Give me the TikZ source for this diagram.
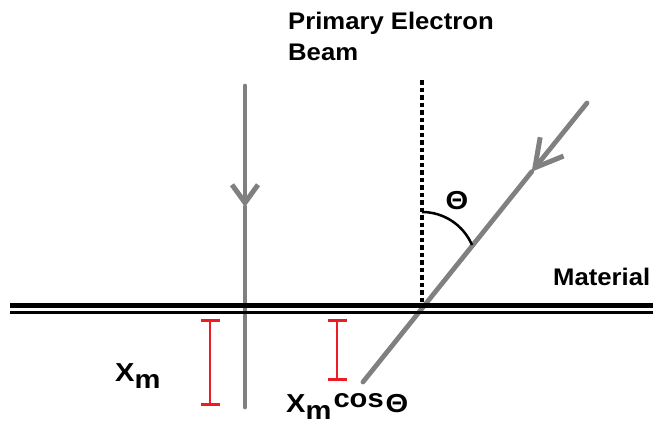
\documentclass[tikz,border=0pt]{standalone}
\usepackage{fontspec}
\setmainfont{Liberation Sans}
\newfontfamily\labfont[FakeStretch=1.07]{Liberation Sans}
\newfontfamily\symfont[FakeStretch=1.12]{Liberation Sans}
\usetikzlibrary{arrows.meta}
\definecolor{beamgray}{RGB}{128,128,128}
\definecolor{barred}{RGB}{237,28,36}
\tikzset{
  beam/.style={draw=beamgray, line width=4.8pt, line cap=round},
  lab/.style={inner sep=0pt, font=\labfont\fontsize{24}{31}\selectfont\bfseries, text=black},
  symlab/.style={inner sep=0pt, font=\symfont\fontsize{26}{31}\selectfont\bfseries, text=black},
  surface/.style={draw=black},
  redbar/.style={draw=barred, line width=2.5pt, {Bar[width=19pt,line width=3pt]}-{Bar[width=19pt,line width=3pt]}},
  normalline/.style={draw=black, line width=3.2pt, dash pattern=on 4.5pt off 3pt},
  anglearc/.style={draw=black, line width=2.5pt}
}
\begin{document}
\begin{tikzpicture}[x=1pt,y=-1pt]
\useasboundingbox (0,0) rectangle (653,426);
% beams
\coordinate (vtop) at (245,86);
\coordinate (vmid) at (245,207);
\coordinate (vbot) at (245,407);
\coordinate (dtop) at (587,103);
\coordinate (dmid) at (531.7,171.7);
\coordinate (dbot) at (363,382);
\draw[beam, -{Straight Barb[length=18pt,width=26pt,line width=5pt]}] (vtop) -- (vmid);
\draw[beam] (vmid) -- (vbot);
\draw[beam, -{Straight Barb[length=27pt,width=30pt,line width=5pt]}] (dtop) -- (dmid);
\draw[beam] (dmid) -- (dbot);
% normal (dotted)
\coordinate (ntop) at (422,80);
\coordinate (nbot) at (422,302);
\draw[normalline] (ntop) -- (nbot);
% angle arc
\coordinate (arcA) at (422,212);
\coordinate (arcB) at (472,245);
\draw[anglearc] (arcA) .. controls (443.8,212) and (463.4,225) .. (arcB);
% material surface
\coordinate (s1a) at (10,305.5);
\coordinate (s1b) at (653,305.5);
\coordinate (s2a) at (10,312.5);
\coordinate (s2b) at (653,312.5);
\draw[surface, line width=5.5pt] (s1a) -- (s1b);
\draw[surface, line width=3pt] (s2a) -- (s2b);
% red depth bars
\coordinate (r1a) at (210,319);
\coordinate (r1b) at (210,406);
\coordinate (r2a) at (337,319);
\coordinate (r2b) at (337,381);
\draw[redbar] (r1a) -- (r1b);
\draw[redbar] (r2a) -- (r2b);
% labels
\node[lab, anchor=north west, align=left] (beamlbl) at (288,12) {Primary Electron\\Beam};
\node[lab, anchor=base west] (matlbl) at (553,285) {Material};
\node[symlab] (thetalbl) at (457,201) {Θ};
\node[symlab, anchor=base west] (xmlbl) at (115,381) {X\raisebox{-7pt}{m}};
\node[symlab, anchor=base west] (xmcoslbl) at (286,412) {X\raisebox{-7pt}{m}\kern2pt\raisebox{5pt}{cos}\kern2pt Θ};
\end{tikzpicture}
\end{document}
